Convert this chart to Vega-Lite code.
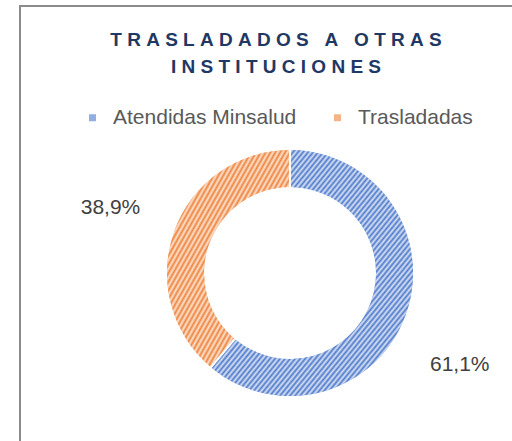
{
  "$schema": "https://vega.github.io/schema/vega-lite/v6.json",
  "autosize": "none",
  "width": 540,
  "height": 534,
  "padding": {"left": 20, "top": 6, "right": -48, "bottom": -99},
  "background": "white",
  "view": {"stroke": "#8c8c8c", "strokeWidth": 2, "fill": "white"},
  "config": {
    "view": {"stroke": "#8c8c8c", "strokeWidth": 2},
    "font": "Liberation Sans"
  },
  "title": {
    "text": ["T\u00a0R\u00a0A\u00a0S\u00a0L\u00a0A\u00a0D\u00a0A\u00a0D\u00a0O\u00a0S\u00a0\u00a0\u00a0A\u00a0\u00a0\u00a0O\u00a0T\u00a0R\u00a0A\u00a0S", "I\u00a0N\u00a0S\u00a0T\u00a0I\u00a0T\u00a0U\u00a0C\u00a0I\u00a0O\u00a0N\u00a0E\u00a0S"],
    "orient": "top",
    "anchor": "middle",
    "baseline": "top",
    "offset": -71,
    "dx": -14,
    "font": "Liberation Sans",
    "fontSize": 19,
    "fontWeight": "bold",
    "lineHeight": 26.7,
    "color": "#1F3864"
  },
  "data": {
    "values": [
      {"categoria": "Atendidas Minsalud", "valor": 61.1, "etiqueta": "61,1%"},
      {"categoria": "Trasladadas", "valor": 38.9, "etiqueta": "38,9%"}
    ]
  },
  "encoding": {
    "theta": {"field": "valor", "type": "quantitative", "stack": true},
    "order": {"field": "categoria", "sort": "ascending"}
  },
  "layer": [
    {
      "mark": {"type": "arc", "outerRadius": 123, "innerRadius": 86, "padAngle": 0.015},
      "encoding": {
        "color": {
          "field": "categoria",
          "type": "nominal",
          "sort": ["Atendidas Minsalud", "Trasladadas"],
          "scale": {"domain": ["Atendidas Minsalud", "Trasladadas"], "range": ["#93AEE0", "#F5B487"]},
          "legend": {
            "title": null,
            "orient": "none",
            "direction": "horizontal",
            "legendX": 62,
            "legendY": 101,
            "padding": 0,
            "symbolType": "square",
            "symbolSize": 49,
            "symbolStrokeWidth": 0,
            "labelFont": "Liberation Sans",
            "labelFontSize": 21,
            "labelColor": "#595959",
            "labelOffset": 10,
            "columnPadding": 30,
            "labelLimit": 400
          }
        }
      }
    },
    {
      "mark": {
        "type": "arc", "outerRadius": 123, "innerRadius": 86, "padAngle": 0.015,
        "fill": {
          "gradient": "linear", "x1": 0, "y1": 0, "x2": 1, "y2": 1,
          "stops": [
            {"offset": 0, "color": "#D9E2F5"}, {"offset": 0.00625, "color": "#4F7BCB"}, {"offset": 0.0125, "color": "#D9E2F5"}, {"offset": 0.01875, "color": "#4F7BCB"}, {"offset": 0.025, "color": "#D9E2F5"}, {"offset": 0.03125, "color": "#4F7BCB"}, {"offset": 0.0375, "color": "#D9E2F5"}, {"offset": 0.04375, "color": "#4F7BCB"},
            {"offset": 0.05, "color": "#D9E2F5"}, {"offset": 0.05625, "color": "#4F7BCB"}, {"offset": 0.0625, "color": "#D9E2F5"}, {"offset": 0.06875, "color": "#4F7BCB"}, {"offset": 0.075, "color": "#D9E2F5"}, {"offset": 0.08125, "color": "#4F7BCB"}, {"offset": 0.0875, "color": "#D9E2F5"}, {"offset": 0.09375, "color": "#4F7BCB"},
            {"offset": 0.1, "color": "#D9E2F5"}, {"offset": 0.10625, "color": "#4F7BCB"}, {"offset": 0.1125, "color": "#D9E2F5"}, {"offset": 0.11875, "color": "#4F7BCB"}, {"offset": 0.125, "color": "#D9E2F5"}, {"offset": 0.13125, "color": "#4F7BCB"}, {"offset": 0.1375, "color": "#D9E2F5"}, {"offset": 0.14375, "color": "#4F7BCB"},
            {"offset": 0.15, "color": "#D9E2F5"}, {"offset": 0.15625, "color": "#4F7BCB"}, {"offset": 0.1625, "color": "#D9E2F5"}, {"offset": 0.16875, "color": "#4F7BCB"}, {"offset": 0.175, "color": "#D9E2F5"}, {"offset": 0.18125, "color": "#4F7BCB"}, {"offset": 0.1875, "color": "#D9E2F5"}, {"offset": 0.19375, "color": "#4F7BCB"},
            {"offset": 0.2, "color": "#D9E2F5"}, {"offset": 0.20625, "color": "#4F7BCB"}, {"offset": 0.2125, "color": "#D9E2F5"}, {"offset": 0.21875, "color": "#4F7BCB"}, {"offset": 0.225, "color": "#D9E2F5"}, {"offset": 0.23125, "color": "#4F7BCB"}, {"offset": 0.2375, "color": "#D9E2F5"}, {"offset": 0.24375, "color": "#4F7BCB"},
            {"offset": 0.25, "color": "#D9E2F5"}, {"offset": 0.25625, "color": "#4F7BCB"}, {"offset": 0.2625, "color": "#D9E2F5"}, {"offset": 0.26875, "color": "#4F7BCB"}, {"offset": 0.275, "color": "#D9E2F5"}, {"offset": 0.28125, "color": "#4F7BCB"}, {"offset": 0.2875, "color": "#D9E2F5"}, {"offset": 0.29375, "color": "#4F7BCB"},
            {"offset": 0.3, "color": "#D9E2F5"}, {"offset": 0.30625, "color": "#4F7BCB"}, {"offset": 0.3125, "color": "#D9E2F5"}, {"offset": 0.31875, "color": "#4F7BCB"}, {"offset": 0.325, "color": "#D9E2F5"}, {"offset": 0.33125, "color": "#4F7BCB"}, {"offset": 0.3375, "color": "#D9E2F5"}, {"offset": 0.34375, "color": "#4F7BCB"},
            {"offset": 0.35, "color": "#D9E2F5"}, {"offset": 0.35625, "color": "#4F7BCB"}, {"offset": 0.3625, "color": "#D9E2F5"}, {"offset": 0.36875, "color": "#4F7BCB"}, {"offset": 0.375, "color": "#D9E2F5"}, {"offset": 0.38125, "color": "#4F7BCB"}, {"offset": 0.3875, "color": "#D9E2F5"}, {"offset": 0.39375, "color": "#4F7BCB"},
            {"offset": 0.4, "color": "#D9E2F5"}, {"offset": 0.40625, "color": "#4F7BCB"}, {"offset": 0.4125, "color": "#D9E2F5"}, {"offset": 0.41875, "color": "#4F7BCB"}, {"offset": 0.425, "color": "#D9E2F5"}, {"offset": 0.43125, "color": "#4F7BCB"}, {"offset": 0.4375, "color": "#D9E2F5"}, {"offset": 0.44375, "color": "#4F7BCB"},
            {"offset": 0.45, "color": "#D9E2F5"}, {"offset": 0.45625, "color": "#4F7BCB"}, {"offset": 0.4625, "color": "#D9E2F5"}, {"offset": 0.46875, "color": "#4F7BCB"}, {"offset": 0.475, "color": "#D9E2F5"}, {"offset": 0.48125, "color": "#4F7BCB"}, {"offset": 0.4875, "color": "#D9E2F5"}, {"offset": 0.49375, "color": "#4F7BCB"},
            {"offset": 0.5, "color": "#D9E2F5"}, {"offset": 0.50625, "color": "#4F7BCB"}, {"offset": 0.5125, "color": "#D9E2F5"}, {"offset": 0.51875, "color": "#4F7BCB"}, {"offset": 0.525, "color": "#D9E2F5"}, {"offset": 0.53125, "color": "#4F7BCB"}, {"offset": 0.5375, "color": "#D9E2F5"}, {"offset": 0.54375, "color": "#4F7BCB"},
            {"offset": 0.55, "color": "#D9E2F5"}, {"offset": 0.55625, "color": "#4F7BCB"}, {"offset": 0.5625, "color": "#D9E2F5"}, {"offset": 0.56875, "color": "#4F7BCB"}, {"offset": 0.575, "color": "#D9E2F5"}, {"offset": 0.58125, "color": "#4F7BCB"}, {"offset": 0.5875, "color": "#D9E2F5"}, {"offset": 0.59375, "color": "#4F7BCB"},
            {"offset": 0.6, "color": "#D9E2F5"}, {"offset": 0.60625, "color": "#4F7BCB"}, {"offset": 0.6125, "color": "#D9E2F5"}, {"offset": 0.61875, "color": "#4F7BCB"}, {"offset": 0.625, "color": "#D9E2F5"}, {"offset": 0.63125, "color": "#4F7BCB"}, {"offset": 0.6375, "color": "#D9E2F5"}, {"offset": 0.64375, "color": "#4F7BCB"},
            {"offset": 0.65, "color": "#D9E2F5"}, {"offset": 0.65625, "color": "#4F7BCB"}, {"offset": 0.6625, "color": "#D9E2F5"}, {"offset": 0.66875, "color": "#4F7BCB"}, {"offset": 0.675, "color": "#D9E2F5"}, {"offset": 0.68125, "color": "#4F7BCB"}, {"offset": 0.6875, "color": "#D9E2F5"}, {"offset": 0.69375, "color": "#4F7BCB"},
            {"offset": 0.7, "color": "#D9E2F5"}, {"offset": 0.70625, "color": "#4F7BCB"}, {"offset": 0.7125, "color": "#D9E2F5"}, {"offset": 0.71875, "color": "#4F7BCB"}, {"offset": 0.725, "color": "#D9E2F5"}, {"offset": 0.73125, "color": "#4F7BCB"}, {"offset": 0.7375, "color": "#D9E2F5"}, {"offset": 0.74375, "color": "#4F7BCB"},
            {"offset": 0.75, "color": "#D9E2F5"}, {"offset": 0.75625, "color": "#4F7BCB"}, {"offset": 0.7625, "color": "#D9E2F5"}, {"offset": 0.76875, "color": "#4F7BCB"}, {"offset": 0.775, "color": "#D9E2F5"}, {"offset": 0.78125, "color": "#4F7BCB"}, {"offset": 0.7875, "color": "#D9E2F5"}, {"offset": 0.79375, "color": "#4F7BCB"},
            {"offset": 0.8, "color": "#D9E2F5"}, {"offset": 0.80625, "color": "#4F7BCB"}, {"offset": 0.8125, "color": "#D9E2F5"}, {"offset": 0.81875, "color": "#4F7BCB"}, {"offset": 0.825, "color": "#D9E2F5"}, {"offset": 0.83125, "color": "#4F7BCB"}, {"offset": 0.8375, "color": "#D9E2F5"}, {"offset": 0.84375, "color": "#4F7BCB"},
            {"offset": 0.85, "color": "#D9E2F5"}, {"offset": 0.85625, "color": "#4F7BCB"}, {"offset": 0.8625, "color": "#D9E2F5"}, {"offset": 0.86875, "color": "#4F7BCB"}, {"offset": 0.875, "color": "#D9E2F5"}, {"offset": 0.88125, "color": "#4F7BCB"}, {"offset": 0.8875, "color": "#D9E2F5"}, {"offset": 0.89375, "color": "#4F7BCB"},
            {"offset": 0.9, "color": "#D9E2F5"}, {"offset": 0.90625, "color": "#4F7BCB"}, {"offset": 0.9125, "color": "#D9E2F5"}, {"offset": 0.91875, "color": "#4F7BCB"}, {"offset": 0.925, "color": "#D9E2F5"}, {"offset": 0.93125, "color": "#4F7BCB"}, {"offset": 0.9375, "color": "#D9E2F5"}, {"offset": 0.94375, "color": "#4F7BCB"},
            {"offset": 0.95, "color": "#D9E2F5"}, {"offset": 0.95625, "color": "#4F7BCB"}, {"offset": 0.9625, "color": "#D9E2F5"}, {"offset": 0.96875, "color": "#4F7BCB"}, {"offset": 0.975, "color": "#D9E2F5"}, {"offset": 0.98125, "color": "#4F7BCB"}, {"offset": 0.9875, "color": "#D9E2F5"}, {"offset": 0.99375, "color": "#4F7BCB"},
            {"offset": 1, "color": "#D9E2F5"}
          ]
        }
      },
      "encoding": {
        "fillOpacity": {"condition": {"test": "datum.categoria === 'Atendidas Minsalud'", "value": 1}, "value": 0}
      }
    },
    {
      "mark": {
        "type": "arc", "outerRadius": 123, "innerRadius": 86, "padAngle": 0.015,
        "fill": {
          "gradient": "linear", "x1": 0, "y1": 0, "x2": 1, "y2": 1,
          "stops": [
            {"offset": 0, "color": "#FDE3D0"}, {"offset": 0.01, "color": "#EE8540"}, {"offset": 0.02, "color": "#FDE3D0"}, {"offset": 0.03, "color": "#EE8540"}, {"offset": 0.04, "color": "#FDE3D0"}, {"offset": 0.05, "color": "#EE8540"}, {"offset": 0.06, "color": "#FDE3D0"}, {"offset": 0.07, "color": "#EE8540"}, {"offset": 0.08, "color": "#FDE3D0"}, {"offset": 0.09, "color": "#EE8540"},
            {"offset": 0.1, "color": "#FDE3D0"}, {"offset": 0.11, "color": "#EE8540"}, {"offset": 0.12, "color": "#FDE3D0"}, {"offset": 0.13, "color": "#EE8540"}, {"offset": 0.14, "color": "#FDE3D0"}, {"offset": 0.15, "color": "#EE8540"}, {"offset": 0.16, "color": "#FDE3D0"}, {"offset": 0.17, "color": "#EE8540"}, {"offset": 0.18, "color": "#FDE3D0"}, {"offset": 0.19, "color": "#EE8540"},
            {"offset": 0.2, "color": "#FDE3D0"}, {"offset": 0.21, "color": "#EE8540"}, {"offset": 0.22, "color": "#FDE3D0"}, {"offset": 0.23, "color": "#EE8540"}, {"offset": 0.24, "color": "#FDE3D0"}, {"offset": 0.25, "color": "#EE8540"}, {"offset": 0.26, "color": "#FDE3D0"}, {"offset": 0.27, "color": "#EE8540"}, {"offset": 0.28, "color": "#FDE3D0"}, {"offset": 0.29, "color": "#EE8540"},
            {"offset": 0.3, "color": "#FDE3D0"}, {"offset": 0.31, "color": "#EE8540"}, {"offset": 0.32, "color": "#FDE3D0"}, {"offset": 0.33, "color": "#EE8540"}, {"offset": 0.34, "color": "#FDE3D0"}, {"offset": 0.35, "color": "#EE8540"}, {"offset": 0.36, "color": "#FDE3D0"}, {"offset": 0.37, "color": "#EE8540"}, {"offset": 0.38, "color": "#FDE3D0"}, {"offset": 0.39, "color": "#EE8540"},
            {"offset": 0.4, "color": "#FDE3D0"}, {"offset": 0.41, "color": "#EE8540"}, {"offset": 0.42, "color": "#FDE3D0"}, {"offset": 0.43, "color": "#EE8540"}, {"offset": 0.44, "color": "#FDE3D0"}, {"offset": 0.45, "color": "#EE8540"}, {"offset": 0.46, "color": "#FDE3D0"}, {"offset": 0.47, "color": "#EE8540"}, {"offset": 0.48, "color": "#FDE3D0"}, {"offset": 0.49, "color": "#EE8540"},
            {"offset": 0.5, "color": "#FDE3D0"}, {"offset": 0.51, "color": "#EE8540"}, {"offset": 0.52, "color": "#FDE3D0"}, {"offset": 0.53, "color": "#EE8540"}, {"offset": 0.54, "color": "#FDE3D0"}, {"offset": 0.55, "color": "#EE8540"}, {"offset": 0.56, "color": "#FDE3D0"}, {"offset": 0.57, "color": "#EE8540"}, {"offset": 0.58, "color": "#FDE3D0"}, {"offset": 0.59, "color": "#EE8540"},
            {"offset": 0.6, "color": "#FDE3D0"}, {"offset": 0.61, "color": "#EE8540"}, {"offset": 0.62, "color": "#FDE3D0"}, {"offset": 0.63, "color": "#EE8540"}, {"offset": 0.64, "color": "#FDE3D0"}, {"offset": 0.65, "color": "#EE8540"}, {"offset": 0.66, "color": "#FDE3D0"}, {"offset": 0.67, "color": "#EE8540"}, {"offset": 0.68, "color": "#FDE3D0"}, {"offset": 0.69, "color": "#EE8540"},
            {"offset": 0.7, "color": "#FDE3D0"}, {"offset": 0.71, "color": "#EE8540"}, {"offset": 0.72, "color": "#FDE3D0"}, {"offset": 0.73, "color": "#EE8540"}, {"offset": 0.74, "color": "#FDE3D0"}, {"offset": 0.75, "color": "#EE8540"}, {"offset": 0.76, "color": "#FDE3D0"}, {"offset": 0.77, "color": "#EE8540"}, {"offset": 0.78, "color": "#FDE3D0"}, {"offset": 0.79, "color": "#EE8540"},
            {"offset": 0.8, "color": "#FDE3D0"}, {"offset": 0.81, "color": "#EE8540"}, {"offset": 0.82, "color": "#FDE3D0"}, {"offset": 0.83, "color": "#EE8540"}, {"offset": 0.84, "color": "#FDE3D0"}, {"offset": 0.85, "color": "#EE8540"}, {"offset": 0.86, "color": "#FDE3D0"}, {"offset": 0.87, "color": "#EE8540"}, {"offset": 0.88, "color": "#FDE3D0"}, {"offset": 0.89, "color": "#EE8540"},
            {"offset": 0.9, "color": "#FDE3D0"}, {"offset": 0.91, "color": "#EE8540"}, {"offset": 0.92, "color": "#FDE3D0"}, {"offset": 0.93, "color": "#EE8540"}, {"offset": 0.94, "color": "#FDE3D0"}, {"offset": 0.95, "color": "#EE8540"}, {"offset": 0.96, "color": "#FDE3D0"}, {"offset": 0.97, "color": "#EE8540"}, {"offset": 0.98, "color": "#FDE3D0"}, {"offset": 0.99, "color": "#EE8540"},
            {"offset": 1, "color": "#FDE3D0"}
          ]
        }
      },
      "encoding": {
        "fillOpacity": {"condition": {"test": "datum.categoria === 'Trasladadas'", "value": 1}, "value": 0}
      }
    },
    {
      "mark": {"type": "text", "radius": 193, "thetaOffset": 0.147, "fontSize": 21, "color": "#404040", "font": "Liberation Sans"},
      "encoding": {
        "text": {"condition": {"test": "datum.categoria === 'Atendidas Minsalud'", "field": "etiqueta"}, "value": ""}
      }
    },
    {
      "mark": {"type": "text", "radius": 191, "fontSize": 21, "color": "#404040", "font": "Liberation Sans"},
      "encoding": {
        "text": {"condition": {"test": "datum.categoria === 'Trasladadas'", "field": "etiqueta"}, "value": ""}
      }
    }
  ]
}
